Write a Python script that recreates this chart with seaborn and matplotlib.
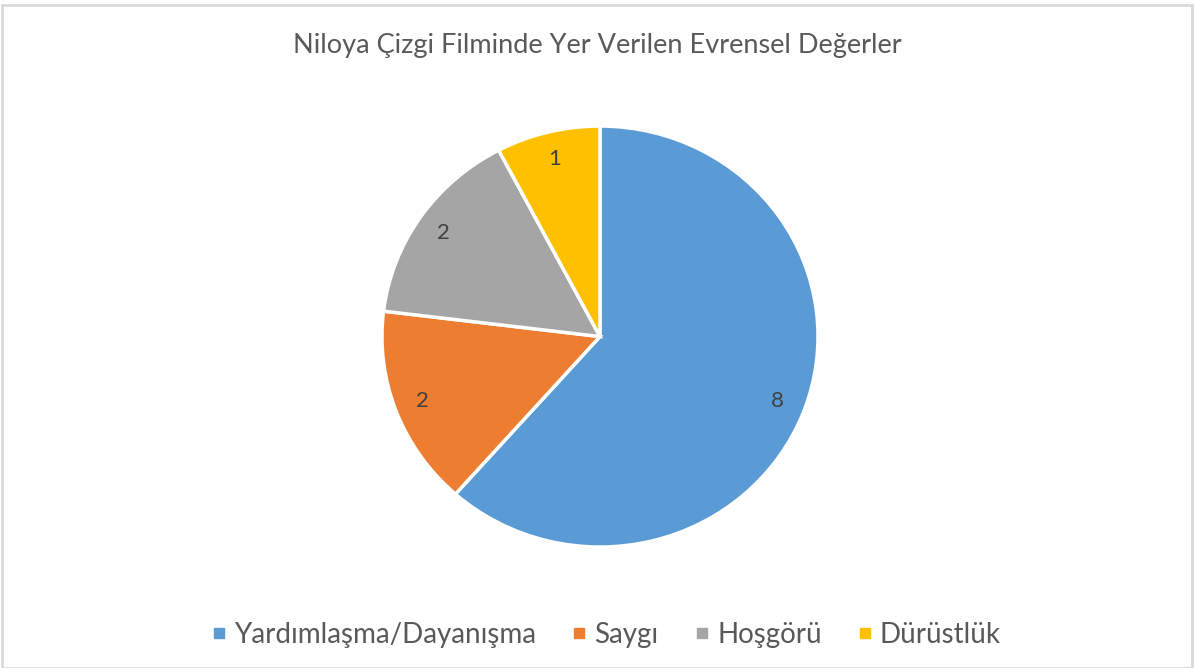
import matplotlib.pyplot as plt
import seaborn as sns
from matplotlib.lines import Line2D
from matplotlib.patches import Rectangle

# Values
categories = ['Yardımlaşma/Dayanışma', 'Saygı', 'Hoşgörü', 'Dürüstlük']
counts = [8, 2, 2, 1]
colors = ['#5B9BD5', '#ED7D31', '#A5A5A5', '#FFC000']
title = 'Niloya Çizgi Filminde Yer Verilen Evrensel Değerler'

sns.set_theme(style='white')
plt.rcParams['font.family'] = ['Lato', 'DejaVu Sans']

fig = plt.figure(figsize=(11.94, 6.68), dpi=100)
fig.patch.set_facecolor('white')

# Light frame around the chart area
fig.patches.append(Rectangle((0.002, 0.0), 0.996, 0.993, transform=fig.transFigure,
                             fill=False, edgecolor='#D9D9D9', linewidth=2))

ax = fig.add_axes([0.3199, 0.1811, 0.3652, 0.6302])
wedges, texts, autotexts = ax.pie(
    counts, colors=colors, startangle=90, counterclock=False,
    autopct=lambda p: f'{round(p * sum(counts) / 100):d}', pctdistance=0.87,
    wedgeprops=dict(edgecolor='white', linewidth=2.5), frame=False)
for t in autotexts:
    t.set_color('#404040')
    t.set_fontsize(16)
ax.set_aspect('auto')
ax.set_xlim(-1, 1)
ax.set_ylim(-1, 1)

fig.text(0.5, 0.932, title, ha='center', va='center', fontsize=19.5, color='#595959')

handles = [Line2D([], [], marker='s', linestyle='', markersize=7,
                  markerfacecolor=c, markeredgecolor=c) for c in colors]
fig.legend(handles, categories, loc='center', bbox_to_anchor=(0.508, 0.05), ncol=4,
           frameon=False, fontsize=20, labelcolor='#595959', handlelength=0.5,
           handletextpad=0.3, columnspacing=1.3)

fig.savefig('out.png', dpi=100, facecolor='white')
